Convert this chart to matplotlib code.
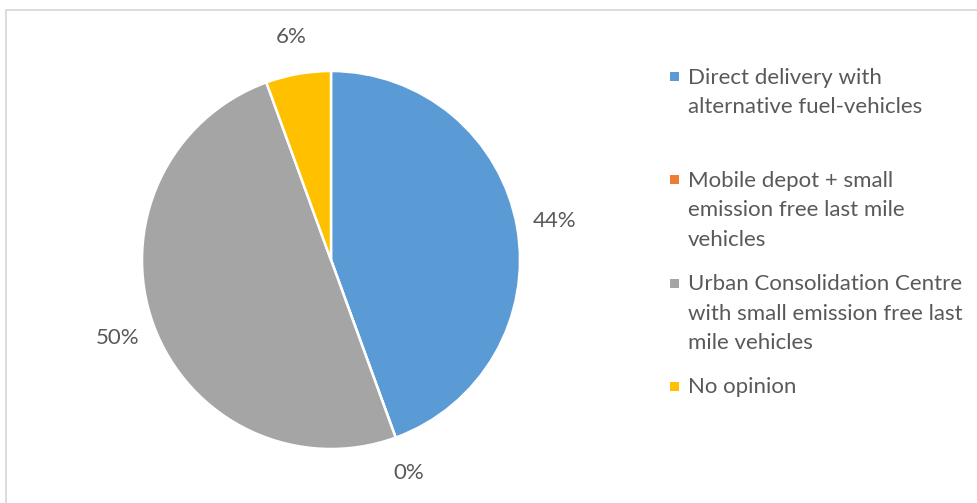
import matplotlib.pyplot as plt
from matplotlib.patches import Rectangle

plt.rcParams['font.family'] = ['Lato', 'DejaVu Sans']

# survey answers (counts), drawn clockwise from 12 o'clock
categories = [
    'Direct delivery with\nalternative fuel-vehicles',
    'Mobile depot + small\nemission free last mile\nvehicles',
    'Urban Consolidation Centre\nwith small emission free last\nmile vehicles',
    'No opinion',
]
counts = [8, 0, 9, 1]
colors = ['#5B9BD5', '#ED7D31', '#A5A5A5', '#FFC000']
text_color = '#595959'
font_size = 16

W, H = 978, 503
fig = plt.figure(figsize=(W / 100, H / 100), dpi=100)
ax = fig.add_axes([0, 0, 1, 1])

ax.pie(counts, colors=colors, startangle=90, counterclock=False,
       center=(331, H - 260), radius=189,
       autopct='%1.0f%%', pctdistance=1.2,
       wedgeprops=dict(edgecolor='white', linewidth=1.8),
       textprops=dict(color=text_color, fontsize=font_size))
ax.set_xlim(0, W)
ax.set_ylim(0, H)
ax.set_aspect('equal')
ax.axis('off')

# legend, laid out by hand so entries sit on a fixed pitch
leg_x, leg_y0, leg_step = 670, 76.5, 103.3
for i, (label, c) in enumerate(zip(categories, colors)):
    y = leg_y0 + i * leg_step
    fig.add_artist(Rectangle(((leg_x) / W, 1 - (y + 4.5) / H), 9 / W, 9 / H,
                             transform=fig.transFigure, facecolor=c, edgecolor='none'))
    fig.text((leg_x + 18) / W, 1 - (y - 9) / H, label, color=text_color,
             fontsize=font_size, va='top', ha='left', linespacing=1.6)

# thin chart-area border
fig.add_artist(Rectangle((6.5 / W, -0.1), 1.2, 1.1 - 9.5 / H, transform=fig.transFigure,
                         fill=False, edgecolor='#D9D9D9', linewidth=1.3))

fig.savefig('out.png', dpi=100)
